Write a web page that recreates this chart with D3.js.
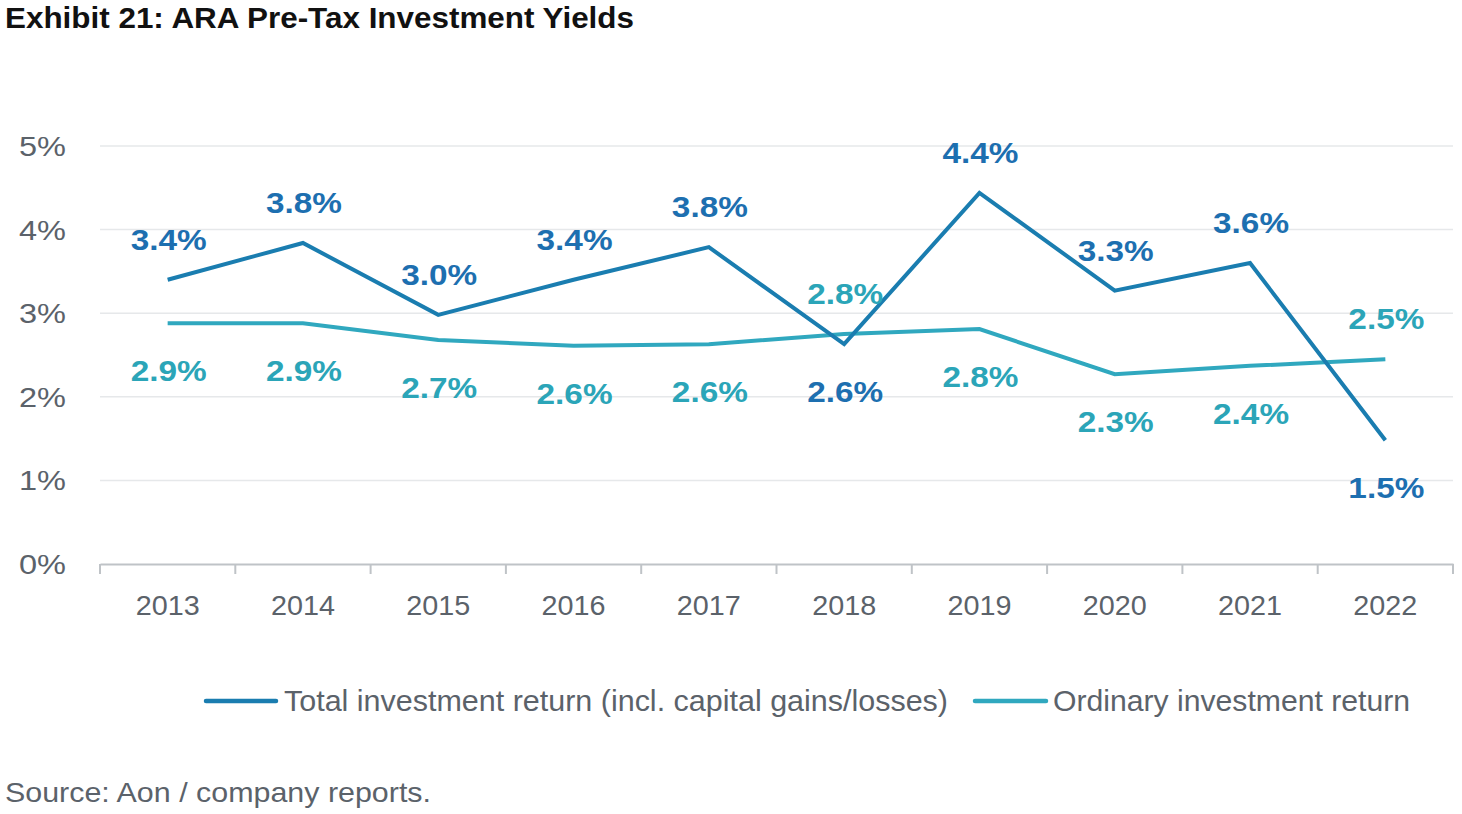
<!DOCTYPE html>
<html>
<head>
<meta charset="utf-8">
<script src="https://cdn.jsdelivr.net/npm/d3@7"></script>
<style>
  body { margin: 0; background: #fff; }
  svg text { font-family: "Liberation Sans", Arial, sans-serif; }
</style>
</head>
<body>
<svg id="chart" width="1462" height="814"></svg>
<script>
// data
const years = ['2013', '2014', '2015', '2016', '2017', '2018', '2019', '2020', '2021', '2022']
const totalReturn = [3.4, 3.84, 2.98, 3.4, 3.79, 2.63, 4.44, 3.27, 3.6, 1.48]
const ordinaryReturn = [2.88, 2.88, 2.68, 2.61, 2.63, 2.75, 2.81, 2.27, 2.37, 2.45]
const totalLabelSide = ['up', 'up', 'up', 'up', 'up', 'down', 'up', 'up', 'up', 'down']
const ordinaryLabelSide = ['down', 'down', 'down', 'down', 'down', 'up', 'down', 'down', 'down', 'up']
const yTicks = [0, 1, 2, 3, 4, 5]

const series = [
  { name: 'Total investment return (incl. capital gains/losses)', values: totalReturn, sides: totalLabelSide,
    line: '#1a7db0', label: '#1d6fb0' },
  { name: 'Ordinary investment return', values: ordinaryReturn, sides: ordinaryLabelSide,
    line: '#30a8bf', label: '#2ba5b8' }
]

const svg = d3.select('#chart')
const plotLeft = 100, plotRight = 1453, plotTop = 146, plotBottom = 564
const grey = '#5b626a'

const x = d3.scaleBand().domain(years).range([plotLeft, plotRight]).padding(0)
const y = d3.scaleLinear().domain([0, 5]).range([plotBottom, plotTop])
const cx = (d) => x(d) + x.bandwidth() / 2

// title
svg.append('text')
  .attr('x', 5).attr('y', 28)
  .attr('font-size', 29).attr('font-weight', 'bold')
  .attr('fill', '#111')
  .attr('textLength', 629).attr('lengthAdjust', 'spacingAndGlyphs')
  .text('Exhibit 21: ARA Pre-Tax Investment Yields')

// gridlines
svg.append('g')
  .selectAll('line')
  .data(yTicks.filter((t) => t > 0))
  .join('line')
  .attr('x1', plotLeft).attr('x2', plotRight)
  .attr('y1', (d) => y(d)).attr('y2', (d) => y(d))
  .attr('stroke', '#e6e8ea').attr('stroke-width', 1.5)

// y axis labels
svg.append('g')
  .selectAll('text')
  .data(yTicks)
  .join('text')
  .attr('x', 66).attr('y', (d) => y(d) + 10)
  .attr('text-anchor', 'end')
  .attr('font-size', 28).attr('fill', grey)
  .attr('textLength', 47).attr('lengthAdjust', 'spacingAndGlyphs')
  .text((d) => d + '%')

// x axis
const xAxis = d3.axisBottom(x).tickSize(0).tickSizeOuter(0).tickPadding(31)
const gx = svg.append('g').attr('transform', `translate(0,${plotBottom})`).call(xAxis)
gx.select('.domain').attr('stroke', '#bfc3c7').attr('stroke-width', 2)
gx.selectAll('.tick text')
  .attr('font-size', 28).attr('fill', grey)
  .attr('font-family', '"Liberation Sans", Arial, sans-serif')
  .attr('textLength', 64).attr('lengthAdjust', 'spacingAndGlyphs')
// boundary ticks between categories
gx.append('g')
  .selectAll('line')
  .data(years.map((d) => x(d)).concat([plotRight]))
  .join('line')
  .attr('x1', (d) => d).attr('x2', (d) => d)
  .attr('y1', 0).attr('y2', 10)
  .attr('stroke', '#bfc3c7').attr('stroke-width', 2)

// lines (ordinary first, total on top)
const line = d3.line().x((d, i) => cx(years[i])).y((d) => y(d))
series.slice().reverse().forEach((s) => {
  svg.append('path')
    .datum(s.values)
    .attr('d', line)
    .attr('fill', 'none')
    .attr('stroke', s.line)
    .attr('stroke-width', 4)
    .attr('stroke-linejoin', 'miter')
})

// data labels
series.forEach((s) => {
  svg.append('g')
    .selectAll('text')
    .data(s.values)
    .join('text')
    .attr('x', (d, i) => cx(years[i]) + 1)
    .attr('y', (d, i) => y(d) + (s.sides[i] === 'up' ? -30 : 58))
    .attr('text-anchor', 'middle')
    .attr('font-size', 30).attr('font-weight', 'bold')
    .attr('fill', s.label)
    .attr('textLength', 76).attr('lengthAdjust', 'spacingAndGlyphs')
    .text((d) => d3.format('.1f')(d) + '%')
})

// legend
const legend = [
  { x: 206, w: 70, tx: 284, tw: 664 },
  { x: 975, w: 71, tx: 1053, tw: 357 }
]
series.forEach((s, i) => {
  const g = svg.append('g')
  g.append('line')
    .attr('x1', legend[i].x).attr('x2', legend[i].x + legend[i].w)
    .attr('y1', 701).attr('y2', 701)
    .attr('stroke', s.line).attr('stroke-width', 4.5).attr('stroke-linecap', 'round')
  g.append('text')
    .attr('x', legend[i].tx).attr('y', 711)
    .attr('font-size', 29).attr('fill', grey)
    .attr('textLength', legend[i].tw).attr('lengthAdjust', 'spacingAndGlyphs')
    .text(s.name)
})

// source
svg.append('text')
  .attr('x', 5).attr('y', 802)
  .attr('font-size', 28).attr('fill', grey)
  .attr('textLength', 426).attr('lengthAdjust', 'spacingAndGlyphs')
  .text('Source: Aon / company reports.')
</script>
</body>
</html>
